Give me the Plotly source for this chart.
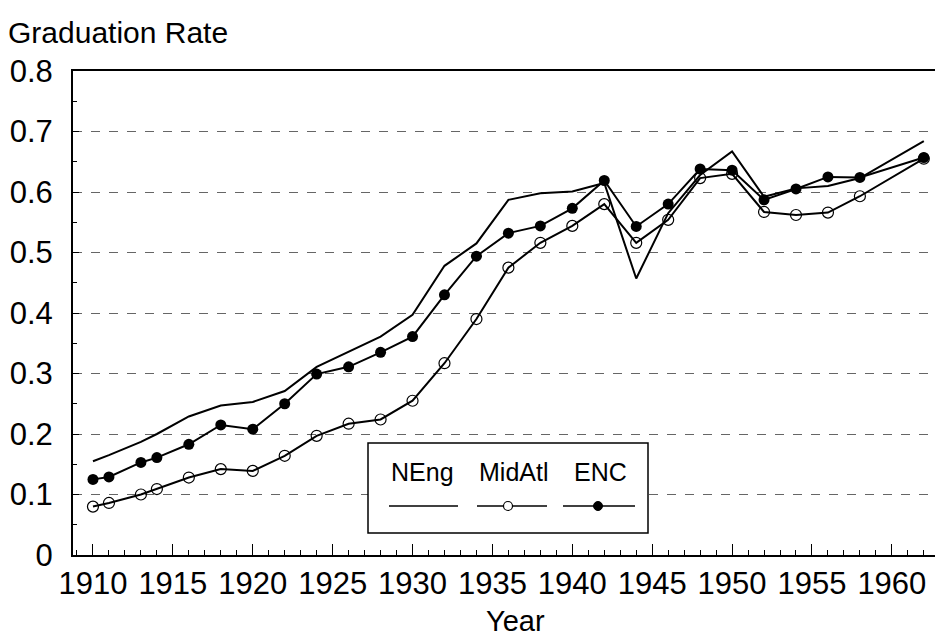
import plotly.graph_objects as go

years = [1910, 1911, 1913, 1914, 1916, 1918, 1920, 1922, 1924, 1926, 1928, 1930, 1932,
         1934, 1936, 1938, 1940, 1942, 1944, 1946, 1948, 1950, 1952, 1954, 1956, 1958, 1962]
neng = [0.155, 0.165, 0.187, 0.200, 0.229, 0.247, 0.253, 0.271, 0.311, 0.336, 0.361, 0.397, 0.478,
        0.515, 0.587, 0.598, 0.601, 0.615, 0.457, 0.565, 0.628, 0.667, 0.592, 0.606, 0.610, 0.623, 0.684]
midatl = [0.080, 0.086, 0.100, 0.109, 0.128, 0.142, 0.139, 0.164, 0.197, 0.217, 0.224, 0.255, 0.317,
          0.390, 0.475, 0.516, 0.544, 0.580, 0.516, 0.554, 0.623, 0.630, 0.567, 0.562, 0.566, 0.593, 0.655]
enc = [0.125, 0.129, 0.153, 0.161, 0.183, 0.215, 0.208, 0.250, 0.299, 0.311, 0.335, 0.361, 0.430,
       0.494, 0.532, 0.544, 0.573, 0.619, 0.543, 0.580, 0.638, 0.636, 0.587, 0.605, 0.625, 0.624, 0.657]
series_names = ["NEng", "MidAtl", "ENC"]
x_ticks = [1910, 1915, 1920, 1925, 1930, 1935, 1940, 1945, 1950, 1955, 1960]
y_ticks = [0, 0.1, 0.2, 0.3, 0.4, 0.5, 0.6, 0.7, 0.8]
y_tick_text = ["0", "0.1", "0.2", "0.3", "0.4", "0.5", "0.6", "0.7", "0.8"]

FONT = "Liberation Sans, Arial, Helvetica, sans-serif"

fig = go.Figure()
fig.add_trace(go.Scatter(x=years, y=neng, name=series_names[0], mode="lines",
                         line=dict(color="black", width=2)))
fig.add_trace(go.Scatter(x=years, y=midatl, name=series_names[1], mode="lines+markers",
                         line=dict(color="black", width=2),
                         marker=dict(symbol="circle-open", size=11, color="black",
                                     line=dict(width=1.2, color="black"))))
fig.add_trace(go.Scatter(x=years, y=enc, name=series_names[2], mode="lines+markers",
                         line=dict(color="black", width=2),
                         marker=dict(symbol="circle", size=11, color="black")))

# plot-area pixel geometry
L, R, T, B = 73, 935, 71, 555
W, H = 941, 639
pw, ph = R - L, B - T


def px(x):
    return (x - L) / pw


def py(y):
    return (B - y) / ph


shapes = []
# legend box
shapes.append(dict(type="rect", xref="paper", yref="paper", x0=px(368), x1=px(648),
                   y0=py(533), y1=py(443), fillcolor="white",
                   line=dict(color="black", width=1.5), layer="above"))
seg = [(389, 458), (477, 547), (563, 635)]
for a, b in seg:
    shapes.append(dict(type="line", xref="paper", yref="paper", x0=px(a), x1=px(b),
                       y0=py(506), y1=py(506), line=dict(color="black", width=1.5), layer="above"))
r = 4.5
shapes.append(dict(type="circle", xref="paper", yref="paper",
                   x0=px(508 - r), x1=px(508 + r), y0=py(506 + r), y1=py(506 - r),
                   fillcolor="white", line=dict(color="black", width=1.2), layer="above"))
shapes.append(dict(type="circle", xref="paper", yref="paper",
                   x0=px(598 - r), x1=px(598 + r), y0=py(506 + r), y1=py(506 - r),
                   fillcolor="black", line=dict(color="black", width=1), layer="above"))

annotations = []
for name, cx in zip(series_names, [422, 513, 600]):
    annotations.append(dict(text=name, xref="paper", yref="paper", x=px(cx), y=py(472),
                            xanchor="center", yanchor="middle", showarrow=False,
                            font=dict(family=FONT, size=25, color="black")))
annotations.append(dict(text="Graduation Rate", xref="paper", yref="paper",
                        x=px(6), y=py(33), xanchor="left", yanchor="middle", showarrow=False,
                        font=dict(family=FONT, size=30, color="black")))
annotations.append(dict(text="Year", xref="paper", yref="paper",
                        x=px(515), y=py(621), xanchor="center", yanchor="middle", showarrow=False,
                        font=dict(family=FONT, size=29, color="black")))

fig.update_layout(
    width=W, height=H,
    margin=dict(l=L, r=W - R, t=T, b=H - B, pad=0),
    paper_bgcolor="white", plot_bgcolor="white",
    showlegend=False,
    font=dict(family=FONT, size=31, color="black"),
    shapes=shapes, annotations=annotations,
)
fig.update_xaxes(
    range=[1908.75, 1962.7], tickmode="array", tickvals=x_ticks,
    ticks="inside", ticklen=11, tickwidth=1, tickcolor="black",
    minor=dict(ticks="inside", ticklen=5, dtick=1, tick0=1910, tickcolor="black", showgrid=False),
    showline=True, linecolor="black", linewidth=2, mirror=True,
    showgrid=False, zeroline=False,
    tickfont=dict(family=FONT, size=31, color="black"),
)
fig.update_yaxes(
    range=[0, 0.8], tickmode="array", tickvals=y_ticks, ticktext=y_tick_text,
    ticks="inside", ticklen=6, tickwidth=1, tickcolor="black",
    minor=dict(ticks="inside", ticklen=4, dtick=0.05, tickcolor="black", showgrid=False),
    showline=True, linecolor="black", linewidth=2,
    showgrid=True, gridcolor="#666666", gridwidth=1, griddash="dash",
    zeroline=False, ticklabelstandoff=12,
    tickfont=dict(family=FONT, size=31, color="black"),
)

fig.write_html("out.html", config={"displayModeBar": False})

# remove the default page margin so the figure sits at the window's top-left corner
with open("out.html", "r", encoding="utf-8") as f:
    html = f.read()
html = html.replace("<body>", '<body style="margin:0;padding:0;overflow:hidden">', 1)
with open("out.html", "w", encoding="utf-8") as f:
    f.write(html)
